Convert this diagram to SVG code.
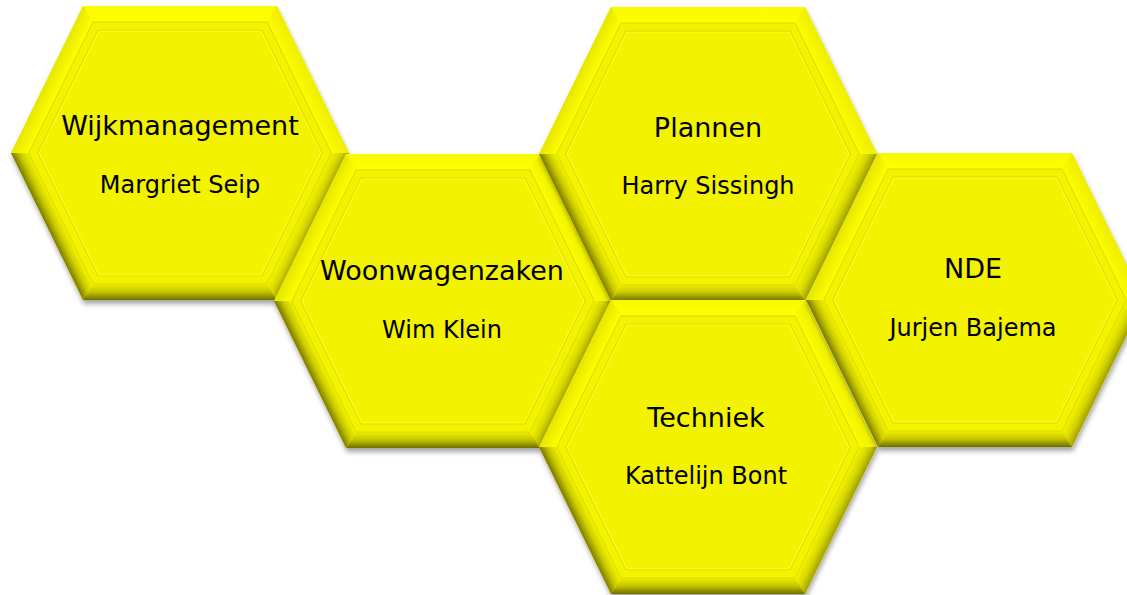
<svg xmlns="http://www.w3.org/2000/svg" xmlns:xlink="http://www.w3.org/1999/xlink" width="1127" height="595" viewBox="0 0 1127 595">
<style>
  .face { fill: #F3F300; }
  .bevelEdge { fill: none; stroke: #D6D600; stroke-width: 0.9; }
  .innerLine { fill: none; stroke: #DADA00; stroke-width: 1; }
  .innerLight { fill: none; stroke: #FFFF30; stroke-width: 1; }
  .t1 { font-family: "DejaVu Sans", Verdana, sans-serif; font-size: 27px; fill: #000; text-anchor: middle; }
  .t2 { font-family: "DejaVu Sans", Verdana, sans-serif; font-size: 24px; fill: #000; text-anchor: middle; }
</style>
<defs>
  <filter id="shadow" x="-10%" y="-10%" width="125%" height="125%">
    <feDropShadow dx="1" dy="4" stdDeviation="2.5" flood-color="#000" flood-opacity="0.35"/>
  </filter>
  <linearGradient id="gTop" gradientUnits="userSpaceOnUse" x1="0" y1="-147" x2="0" y2="-131">
    <stop offset="0" stop-color="#FAFA00"/><stop offset="1" stop-color="#FFFF00"/>
  </linearGradient>
  <linearGradient id="gBot" gradientUnits="userSpaceOnUse" x1="0" y1="147" x2="0" y2="131">
    <stop offset="0" stop-color="#6E6E00"/><stop offset="0.5" stop-color="#C4C400"/><stop offset="1" stop-color="#EEEE00"/>
  </linearGradient>
  <linearGradient id="gLL" gradientUnits="userSpaceOnUse" x1="-133" y1="73.5" x2="-118.6" y2="66.5">
    <stop offset="0" stop-color="#7A7A00"/><stop offset="0.5" stop-color="#CCCC00"/><stop offset="1" stop-color="#F4F400"/>
  </linearGradient>
  <linearGradient id="gLR" gradientUnits="userSpaceOnUse" x1="133" y1="73.5" x2="118.6" y2="66.5">
    <stop offset="0" stop-color="#A0A000"/><stop offset="0.5" stop-color="#D8D800"/><stop offset="1" stop-color="#F4F400"/>
  </linearGradient>
  <linearGradient id="gUL" gradientUnits="userSpaceOnUse" x1="-133" y1="-73.5" x2="-118.6" y2="-66.5">
    <stop offset="0" stop-color="#E6E600"/><stop offset="1" stop-color="#FFFF00"/>
  </linearGradient>
  <linearGradient id="gUR" gradientUnits="userSpaceOnUse" x1="133" y1="-73.5" x2="118.6" y2="-66.5">
    <stop offset="0" stop-color="#EEEE00"/><stop offset="1" stop-color="#FCFC00"/>
  </linearGradient>
  <g id="hex">
    <polygon class="face" points="-169,0 -97,-147 97,-147 169,0 97,147 -97,147" filter="url(#shadow)"/>
    <polygon fill="url(#gTop)" points="-97,-147 97,-147 87,-131 -87,-131"/>
    <polygon fill="url(#gUR)" points="97,-147 169,0 151.2,0 87,-131"/>
    <polygon fill="url(#gLR)" points="169,0 97,147 87,131 151.2,0"/>
    <polygon fill="url(#gBot)" points="97,147 -97,147 -87,131 87,131"/>
    <polygon fill="url(#gLL)" points="-97,147 -169,0 -151.2,0 -87,131"/>
    <polygon fill="url(#gUL)" points="-169,0 -97,-147 -87,-131 -151.2,0"/>
    <polygon class="bevelEdge" points="-151.2,0 -87,-131 87,-131 151.2,0 87,131 -87,131"/>
    <polygon class="innerLight" points="-141,0 -81.2,-122 81.2,-122 141,0 81.2,122 -81.2,122"/>
    <polygon class="innerLine" points="-142.3,0 -82,-123 82,-123 142.3,0 82,123 -82,123"/>
  </g>
</defs>

<g id="connectors"></g>

<g id="wijkmanagement" transform="translate(180,153)">
  <use xlink:href="#hex" href="#hex"/>
  <text class="t1" x="0" y="-18">Wijkmanagement</text>
  <text class="t2" x="0" y="40">Margriet Seip</text>
</g>

<g id="woonwagenzaken" transform="translate(443,301)">
  <use xlink:href="#hex" href="#hex"/>
  <text class="t1" x="-1" y="-21">Woonwagenzaken</text>
  <text class="t2" x="-1" y="37">Wim Klein</text>
</g>

<g id="plannen" transform="translate(708,154)">
  <use xlink:href="#hex" href="#hex"/>
  <text class="t1" x="0" y="-17">Plannen</text>
  <text class="t2" x="0" y="40">Harry Sissingh</text>
</g>

<g id="techniek" transform="translate(708,447)">
  <use xlink:href="#hex" href="#hex"/>
  <text class="t1" x="-2" y="-20">Techniek</text>
  <text class="t2" x="-2" y="37">Kattelijn Bont</text>
</g>

<g id="nde" transform="translate(975,300)">
  <use xlink:href="#hex" href="#hex"/>
  <text class="t1" x="-2" y="-22">NDE</text>
  <text class="t2" x="-2" y="36">Jurjen Bajema</text>
</g>
</svg>
